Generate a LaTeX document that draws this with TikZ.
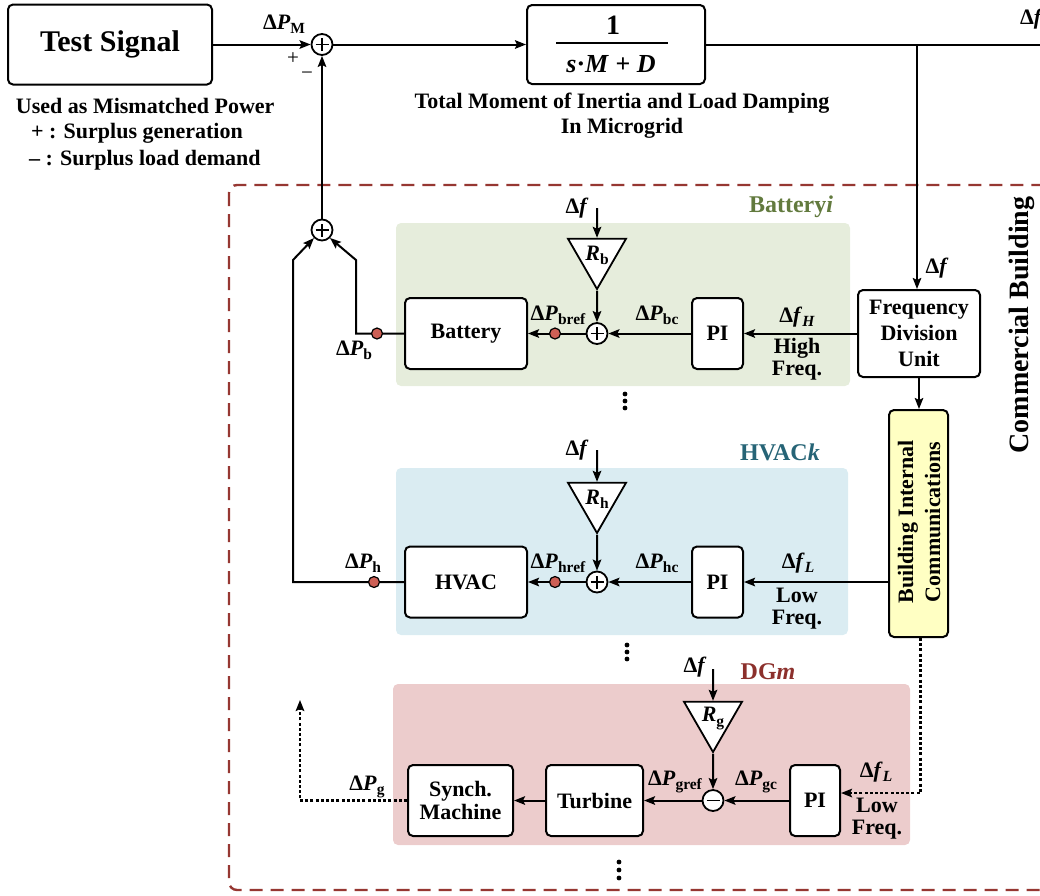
\documentclass[tikz,border=0pt]{standalone}
\usepackage{fontspec}
\setmainfont{Liberation Serif}
\usetikzlibrary{arrows.meta,shapes.geometric,calc}

\definecolor{bldred}{RGB}{150,55,50}
\definecolor{battfill}{RGB}{230,237,220}
\definecolor{battc}{RGB}{98,122,62}
\definecolor{hvacfill}{RGB}{218,236,242}
\definecolor{hvacc}{RGB}{38,100,118}
\definecolor{dgfill}{RGB}{236,204,204}
\definecolor{dgc}{RGB}{140,48,44}
\definecolor{bicfill}{RGB}{255,255,195}
\definecolor{dotred}{RGB}{205,95,85}

% subscripts and signal names
\newcommand\sbs[1]{\raisebox{-0.4ex}{\fontsize{15.5}{15.5}\selectfont #1}}
\newcommand\dP[1]{Δ\textit{P}\sbs{#1}}
\newcommand\df{Δ\textit{f}}

\begin{document}
\begin{tikzpicture}[x=1pt,y=-1pt,line width=2pt,
  font=\bfseries\fontsize{22}{24}\selectfont,
  >={Stealth[length=11pt,width=8.5pt,inset=2pt]},
  blk/.style={draw,rounded corners=5pt,fill=white,align=center,inner sep=2pt},
  lbl/.style={inner sep=0pt,align=center},
  sumc/.style={circle,draw,fill=white,minimum size=21pt,inner sep=0pt,line width=1.8pt},
  plus/.style={sumc,path picture={\draw[line width=1.2pt]
      (path picture bounding box.center) +(-6.5pt,0) -- +(6.5pt,0)
      (path picture bounding box.center) +(0,-6.5pt) -- +(0,6.5pt);}},
  minus/.style={sumc,path picture={\draw[line width=1.2pt]
      (path picture bounding box.center) +(-6.5pt,0) -- +(6.5pt,0);}},
  gain/.style={draw,fill=white,regular polygon,regular polygon sides=3,
      shape border rotate=180,minimum size=67pt,inner sep=0pt,line width=1.8pt},
  rdot/.style={circle,draw,fill=dotred,minimum size=11pt,inner sep=0pt,line width=1.2pt},
  dotline/.style={dash pattern=on 3pt off 2.2pt,line width=2.2pt},
  region/.style={font=\bfseries\fontsize{24}{26}\selectfont,inner sep=0pt}]

\useasboundingbox (0,0) rectangle (1040,895);
\clip (0,0) rectangle (1040,895);

% ---------- coloured device areas ----------
\fill[battfill,rounded corners=5pt] (396,223) rectangle (850,386);
\fill[hvacfill,rounded corners=5pt] (396,468) rectangle (848,635);
\fill[dgfill,rounded corners=5pt] (393,684) rectangle (910,845);

% ---------- building boundary ----------
\draw[bldred,line width=2.4pt,dash pattern=on 13pt off 8pt,rounded corners=8pt]
  (229,185) rectangle (1075,890);

% ---------- microgrid level ----------
\node[blk,minimum width=204pt,minimum height=80pt,
  font=\bfseries\fontsize{30}{34}\selectfont] (ts) at (110,44.5) {Test Signal};
\node[plus] (sumT) at (322,44.5) {};
\node[blk,minimum width=178pt,minimum height=79pt] (tf) at (616,44.5) {};
\node[lbl,font=\bfseries\fontsize{28}{30}\selectfont] (tfnum) at (613,25) {1};
\node[lbl,font=\bfseries\fontsize{26}{28}\selectfont] (tfden) at (611,64)
  {\textit{s}·\textit{M} + \textit{D}};
\draw[line width=2pt] (556,43) -- (668,43);

\node[lbl] (dpm) at (284,24) {\dP{M}};
\node[lbl,font=\fontsize{21}{21}\selectfont] (pls) at (293,59) {+};
\node[lbl,font=\fontsize{21}{21}\selectfont] (mns) at (307,76) {−};

\node[lbl,anchor=west] (use1) at (15,106) {Used as Mismatched Power};
\node[lbl,anchor=west] (use2) at (30,133) {+ : Surplus generation};
\node[lbl,anchor=west] (use3) at (28,160) {– : Surplus load demand};

\node[lbl,font=\bfseries\fontsize{22}{25}\selectfont] (tmlbl) at (622,115.5)
  {Total Moment of Inertia and Load Damping\\In Microgrid};

\coordinate (jn) at (917,44.5);
\coordinate (outR) at (1045,44.5);
\node[lbl,anchor=west] (dfout) at (1019,19) {\df};

\node[lbl,rotate=90,font=\bfseries\fontsize{28}{30}\selectfont] (cb) at (1022,325)
  {Commercial Building};

% ---------- frequency division and communications ----------
\node[blk,minimum width=122pt,minimum height=87pt,
  font=\bfseries\fontsize{22}{26}\selectfont] (fdu) at (919,333.5)
  {Frequency\\Division\\Unit};
\node[lbl] (dffdu) at (937,268) {\df};
\node[blk,fill=bicfill,minimum width=59pt,minimum height=227pt] (bic) at (918.5,523.5) {};
\node[lbl,rotate=90,font=\bfseries\fontsize{22}{27}\selectfont] (bict) at (919,522)
  {Building Internal\\Communications};

% ---------- battery ----------
\node[lbl,region,text=battc] (battlbl) at (791,207) {Battery\textit{i}};
\node[blk,minimum width=122pt,minimum height=71pt] (batt) at (466,333.5) {Battery};
\node[plus] (sumB) at (597,333.5) {};
\node[gain] (triB) at (597,255.5) {\textit{R}\sbs{b}};
\node[blk,minimum width=51pt,minimum height=71pt] (piB) at (717.5,333.5) {PI};
\coordinate (fB) at (597,208);
\node[lbl] (dfB) at (577,208) {\df};
\node[lbl] (dpbref) at (558,315) {\dP{bref}};
\node[lbl] (dpbc) at (657,315) {\dP{bc}};
\node[lbl] (dfH) at (797,317) {\df\sbs{\textit{H}}};
\node[lbl,font=\bfseries\fontsize{22}{22}\selectfont] (hfq) at (797,359) {High\\Freq.};
\node[lbl] (dpb) at (354,350) {\dP{b}};

% ---------- HVAC ----------
\node[lbl,region,text=hvacc] (hvaclbl) at (780,452) {HVAC\textit{k}};
\node[blk,minimum width=122pt,minimum height=71pt] (hvac) at (466,582) {HVAC};
\node[plus] (sumH) at (597,582) {};
\node[gain] (triH) at (597,499.5) {\textit{R}\sbs{h}};
\node[blk,minimum width=51pt,minimum height=71pt] (piH) at (717.5,582) {PI};
\coordinate (fH) at (597,450);
\node[lbl] (dfHv) at (577,450) {\df};
\node[lbl] (dphref) at (558,563) {\dP{href}};
\node[lbl] (dphc) at (657,563) {\dP{hc}};
\node[lbl] (dfL1) at (798,563) {\df\sbs{\textit{L}}};
\node[lbl,font=\bfseries\fontsize{22}{22}\selectfont] (lfq1) at (797,609) {Low\\Freq.};
\node[lbl] (dph) at (363,563) {\dP{h}};

% ---------- DG ----------
\node[lbl,region,text=dgc] (dglbl) at (768,672) {DG\textit{m}};
\node[blk,minimum width=105pt,minimum height=71pt,
  font=\bfseries\fontsize{22}{23}\selectfont] (synch) at (460.5,800.5) {Synch.\\Machine};
\node[blk,minimum width=97pt,minimum height=71pt] (turb) at (594.5,800.5) {Turbine};
\node[minus] (sumG) at (713,800.5) {};
\node[gain] (triG) at (713,718.5) {\textit{R}\sbs{g}};
\node[blk,minimum width=50pt,minimum height=71pt] (piG) at (815,800.5) {PI};
\coordinate (fG) at (713,669);
\node[lbl] (dfGv) at (695,667) {\df};
\node[lbl] (dpgref) at (675,782) {\dP{gref}};
\node[lbl] (dpgc) at (756,782) {\dP{gc}};
\node[lbl] (dfL2) at (876,772) {\df\sbs{\textit{L}}};
\node[lbl,font=\bfseries\fontsize{22}{22}\selectfont] (lfq2) at (877,819) {Low\\Freq.};
\node[lbl] (dpg) at (367,787) {\dP{g}};
\coordinate (gup) at (300,700);

% ---------- aggregation ----------
\node[plus] (sumL) at (322,230) {};
\coordinate (fbL) at (293,260);
\coordinate (fbR) at (356,260);

% ---------- connectors ----------
\draw[->] (ts.east) -- (sumT.west);
\draw[->] (sumT.east) -- (tf.west);
\draw (tf.east) -- (outR);
\draw[->] (jn) -- (jn |- fdu.north);
\draw[->] (sumL.north) -- (sumT.south);
\draw[->] (batt.west) -| (fbR) -- (sumL.-45);
\draw[->] (hvac.west) -| (fbL) -- (sumL.-135);

\draw[->] (fdu.west) -- (piB.east);
\draw[->] (fdu.south) -- (fdu.south |- bic.north);
\draw[->] (piH.east -| bic.west) -- (piH.east);
\draw[dotline,->] ([xshift=2pt]bic.south) |- ($(piG.east)+(0,-7.5)$);

\draw[->] (fB) -- (triB.north);
\draw[->] (triB.south) -- (sumB.north);
\draw[->] (piB.west) -- (sumB.east);
\draw[->] (sumB.west) -- (batt.east);

\draw[->] (fH) -- (triH.north);
\draw[->] (triH.south) -- (sumH.north);
\draw[->] (piH.west) -- (sumH.east);
\draw[->] (sumH.west) -- (hvac.east);

\draw[->] (fG) -- (triG.north);
\draw[->] (triG.south) -- (sumG.north);
\draw[->] (piG.west) -- (sumG.east);
\draw[->] (sumG.west) -- (turb.east);
\draw[->] (turb.west) -- (synch.east);
\draw[dotline,->] (synch.west) -| (gup);

% measurement points
\node[rdot] (mB1) at (555,333.5) {};
\node[rdot] (mB2) at (377,333.5) {};
\node[rdot] (mH1) at (555,582) {};
\node[rdot] (mH2) at (374,582) {};

% further devices of each kind
\foreach \yy in {394,401,408} \fill (625,\yy) circle (2.4pt);
\foreach \yy in {645,652,659} \fill (627,\yy) circle (2.4pt);
\foreach \yy in {862,870,878} \fill (619,\yy) circle (2.4pt);

\end{tikzpicture}
\end{document}
